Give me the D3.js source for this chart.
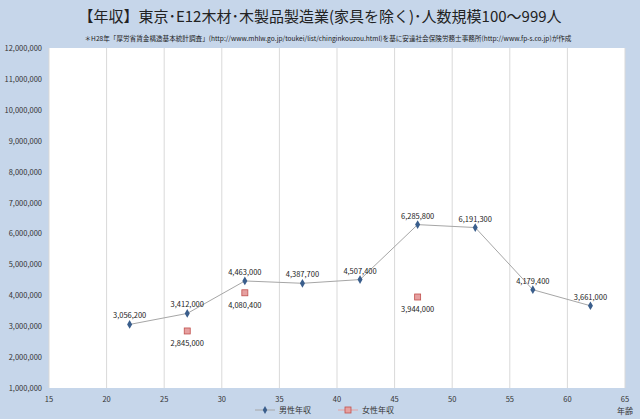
<!DOCTYPE html><html><head><meta charset="utf-8"><script src="https://cdn.jsdelivr.net/npm/d3@7"></script>
<style>body{margin:0;background:#c6d6ea;}text{font-family:"Noto Sans CJK JP",sans-serif;}</style></head><body><svg width="640" height="419"></svg><script>
const maleAges=[22,27,32,37,42,47,52,57,62];
const maleVals=[3056200,3412000,4463000,4387700,4507400,6285800,6191300,4179400,3661000];
const femaleAges=[27,32,47];
const femaleVals=[2845000,4080400,3944000];
const xTicks=[15,20,25,30,35,40,45,50,55,60,65];
const yTicks=d3.range(1000000,12000001,1000000);
const svg=d3.select("svg");
svg.append("rect").attr("width",640).attr("height",419).attr("fill","#c6d6ea");
const x=d3.scaleLinear().domain([15,65]).range([49,625]);
const y=d3.scaleLinear().domain([1000000,12000000]).range([388,48]);
svg.append("rect").attr("x",49).attr("y",48).attr("width",576).attr("height",340).attr("fill","#fff");
svg.selectAll(".g").data(xTicks).join("line").attr("x1",d=>x(d)).attr("x2",d=>x(d)).attr("y1",48).attr("y2",388).attr("stroke","#d9d9d9");
svg.append("text").attr("x",320).attr("y",22).attr("text-anchor","middle").attr("font-size",15).attr("fill","#222").text("【年収】東京･E12木材･木製品製造業(家具を除く)･人数規模100～999人");
svg.append("text").attr("x",328).attr("y",41).attr("text-anchor","middle").attr("font-size",6.6).attr("fill","#222").text("＊H28年「厚労省賃金構造基本統計調査」(http://www.mhlw.go.jp/toukei/list/chinginkouzou.html)を基に安達社会保険労務士事務所(http://www.fp-s.co.jp)が作成");
const fmt=d3.format(",");
svg.selectAll(".yt").data(yTicks).join("text").attr("x",42).attr("y",d=>y(d)+3).attr("text-anchor","end").attr("font-size",7.5).attr("fill","#333").text(d=>fmt(d));
svg.selectAll(".xt").data(xTicks).join("text").attr("x",d=>x(d)).attr("y",402).attr("text-anchor","middle").attr("font-size",7.5).attr("fill","#333").text(d=>d);
svg.append("text").attr("x",625).attr("y",414).attr("text-anchor","middle").attr("font-size",8).attr("fill","#333").text("年齢");
const line=d3.line().x(d=>x(d[0])).y(d=>y(d[1]));
const m=maleAges.map((a,i)=>[a,maleVals[i]]);
const f=femaleAges.map((a,i)=>[a,femaleVals[i]]);
svg.append("path").attr("d",line(m)).attr("fill","none").attr("stroke","#a6a6a6").attr("stroke-width",1);
svg.selectAll(".mp").data(m).join("path").attr("d",d3.symbol(d3.symbolDiamond,22)).attr("transform",d=>`translate(${x(d[0])},${y(d[1])})`).attr("fill","#3a5e8c");
svg.selectAll(".fp").data(f).join("rect").attr("x",d=>x(d[0])-3).attr("y",d=>y(d[1])-3).attr("width",6).attr("height",6).attr("fill","#e6a0a0").attr("stroke","#c0504d").attr("stroke-width",0.8);
const lbl=(d,dy)=>svg.append("text").attr("x",x(d[0])).attr("y",y(d[1])+dy).attr("text-anchor","middle").attr("font-size",7.5).attr("fill","#222").text(fmt(d[1]));
m.forEach(d=>lbl(d,-6));
lbl(f[0],15);lbl(f[1],15);lbl(f[2],15);
// legend
const lg=svg.append("g");
lg.append("line").attr("x1",255).attr("x2",275).attr("y1",410).attr("y2",410).attr("stroke","#a6a6a6");
lg.append("path").attr("d",d3.symbol(d3.symbolDiamond,18)).attr("transform","translate(265,410)").attr("fill","#3a5e8c");
lg.append("text").attr("x",279).attr("y",413).attr("font-size",8).attr("fill","#333").text("男性年収");
lg.append("line").attr("x1",338).attr("x2",358).attr("y1",410).attr("y2",410).attr("stroke","#e6a0a0");
lg.append("rect").attr("x",345).attr("y",407).attr("width",6).attr("height",6).attr("fill","#e6a0a0").attr("stroke","#c0504d").attr("stroke-width",0.8);
lg.append("text").attr("x",362).attr("y",413).attr("font-size",8).attr("fill","#333").text("女性年収");
</script></body></html>
